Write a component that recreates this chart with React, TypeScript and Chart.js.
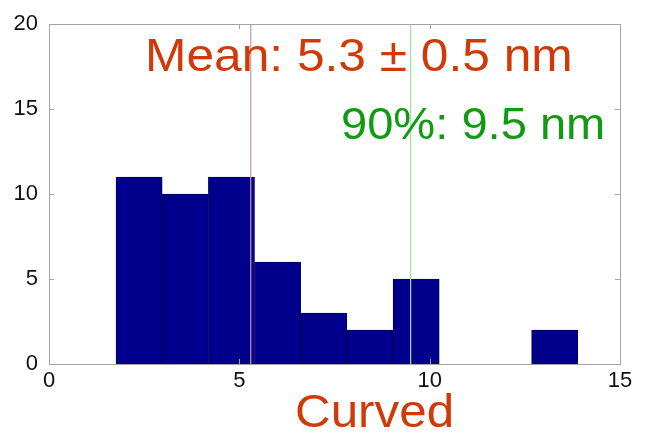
import React, { useEffect, useRef } from "react";
import { Chart, registerables } from "chart.js";

Chart.register(...registerables);

// Histogram bins (nm): left edge of first bin and common width
const binStart = 1.76;
const binWidth = 1.213;
const counts = [11, 10, 11, 6, 3, 2, 5, 0, 0, 2];
const binCenters = counts.map((_, i) => +(binStart + binWidth * (i + 0.5)).toFixed(3));

const meanValue = 5.3;
const meanErr = 0.5;
const p90Value = 9.5;

const xTicks = [0, 5, 10, 15];
const yTicks = [0, 5, 10, 15, 20];

const FONT = '"Liberation Sans", Arial, Helvetica, sans-serif';

const annotations = {
  id: "annotations",
  afterDraw(chart: any) {
    const { ctx, chartArea, scales } = chart;
    ctx.save();
    // axes box
    ctx.strokeStyle = "#a4a4a4";
    ctx.lineWidth = 1;
    ctx.strokeRect(
      Math.round(chartArea.left) + 0.5,
      Math.round(chartArea.top) + 0.5,
      Math.round(chartArea.right - chartArea.left),
      Math.round(chartArea.bottom - chartArea.top)
    );
    // inward tick marks
    const tl = 5;
    ctx.beginPath();
    xTicks.forEach((v) => {
      const px = Math.round(scales.x.getPixelForValue(v)) + 0.5;
      ctx.moveTo(px, chartArea.bottom);
      ctx.lineTo(px, chartArea.bottom - tl);
      ctx.moveTo(px, chartArea.top);
      ctx.lineTo(px, chartArea.top + tl);
    });
    yTicks.forEach((v) => {
      const py = Math.round(scales.y.getPixelForValue(v)) + 0.5;
      ctx.moveTo(chartArea.left, py);
      ctx.lineTo(chartArea.left + tl, py);
      ctx.moveTo(chartArea.right, py);
      ctx.lineTo(chartArea.right - tl, py);
    });
    ctx.stroke();

    const label = (text: string, x: number, y: number, size: number, sx: number, color: string) => {
      ctx.save();
      ctx.translate(x, y);
      ctx.scale(sx, 1);
      ctx.font = `${size}px ${FONT}`;
      ctx.fillStyle = color;
      ctx.textAlign = "left";
      ctx.textBaseline = "alphabetic";
      ctx.fillText(text, 0, 0);
      ctx.restore();
    };
    label(`Mean: ${meanValue} \u00b1 ${meanErr} nm`, 145, 71, 46, 1.08, "#cf3a08");
    label(`90%: ${p90Value} nm`, 341, 139, 44, 1.07, "#139a13");
    label("Curved", 295, 427, 47, 1.05, "#cf3a08");
    ctx.restore();
  },
};

export default function App() {
  const ref = useRef<HTMLCanvasElement>(null);

  useEffect(() => {
    if (!ref.current) return;
    const chart = new Chart(ref.current, {
      type: "bar",
      data: {
        datasets: [
          {
            type: "line",
            data: [
              { x: meanValue, y: 0 },
              { x: meanValue, y: 20 },
            ],
            borderColor: "#cc96a6",
            borderWidth: 1.2,
            pointRadius: 0,
            order: 1,
          } as any,
          {
            type: "line",
            data: [
              { x: p90Value, y: 0 },
              { x: p90Value, y: 20 },
            ],
            borderColor: "#9ce69c",
            borderWidth: 1.2,
            pointRadius: 0,
            order: 1,
          } as any,
          {
            type: "bar",
            data: binCenters.map((x, i) => ({ x, y: counts[i] })),
            backgroundColor: "#00008c",
            borderColor: "#00005c",
            borderWidth: 1,
            barPercentage: 1,
            categoryPercentage: 1,
            grouped: false,
            order: 2,
          } as any,
        ],
      },
      options: {
        responsive: false,
        animation: false,
        layout: { padding: { top: 12, right: 28, left: 0, bottom: 0 } },
        plugins: { legend: { display: false }, tooltip: { enabled: false } },
        scales: {
          x: {
            type: "linear",
            min: 0,
            max: 15,
            offset: false,
            afterBuildTicks: (s: any) => {
              s.ticks = xTicks.map((v) => ({ value: v }));
            },
            afterFit: (s: any) => {
              s.height = 69;
            },
            grid: { display: false, drawTicks: false },
            border: { display: false },
            ticks: {
              padding: 4,
              color: "#111",
              font: { family: FONT, size: 22 },
              maxRotation: 0,
            },
          },
          y: {
            type: "linear",
            min: 0,
            max: 20,
            afterBuildTicks: (s: any) => {
              s.ticks = yTicks.map((v) => ({ value: v }));
            },
            afterFit: (s: any) => {
              s.width = 49;
            },
            grid: { display: false, drawTicks: false },
            border: { display: false },
            ticks: {
              padding: 11,
              color: "#111",
              font: { family: FONT, size: 22 },
            },
          },
        },
      } as any,
      plugins: [annotations],
    });
    return () => chart.destroy();
  }, []);

  return (
    <div style={{ position: "fixed", left: 0, top: 0, width: 648, height: 433, background: "#fff" }}>
      <canvas ref={ref} width={648} height={433} style={{ display: "block" }} />
    </div>
  );
}
